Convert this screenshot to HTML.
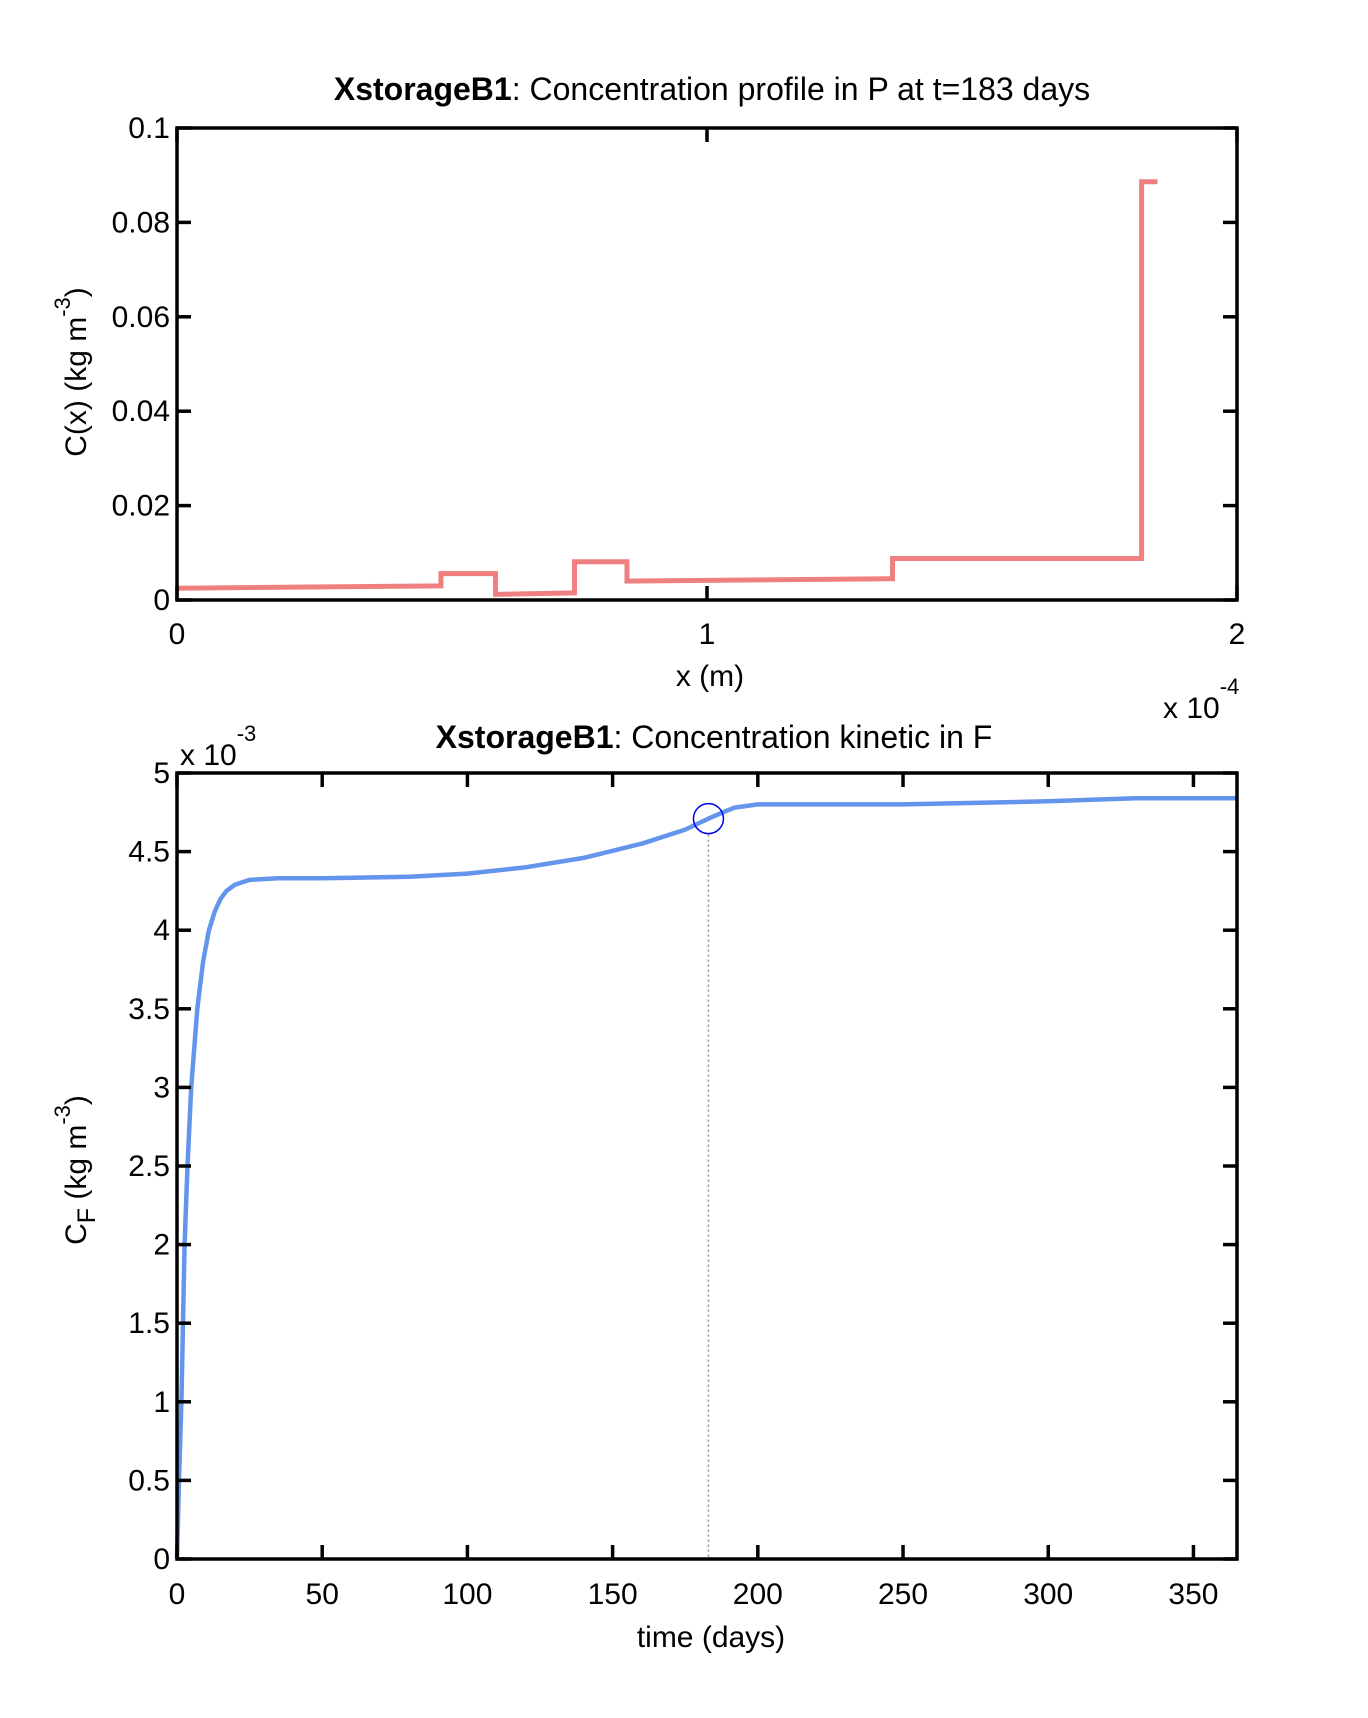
<!DOCTYPE html>
<html><head><meta charset="utf-8"><style>
html,body{margin:0;padding:0;background:#fff;}
svg{display:block;font-family:"Liberation Sans",sans-serif;}
</style></head><body>
<svg id="fig" width="1368" height="1718" viewBox="0 0 1368 1718">
<g id="top"></g>
<g id="bot"></g>
</svg>
<script>
// Top chart data: step profile (x in 1e-4 m, C in kg m^-3)
const profX = [0, 0.498, 0.498, 0.601, 0.601, 0.75, 0.75, 0.849, 0.849, 1.35, 1.35, 1.82, 1.82, 1.85];
const profC = [0.0025, 0.0030, 0.0056, 0.0056, 0.0012, 0.0015, 0.0081, 0.0081, 0.0040, 0.0045, 0.0088, 0.0088, 0.0886, 0.0886];
const topYTicks = [0, 0.02, 0.04, 0.06, 0.08, 0.1];
const topYLabels = ["0", "0.02", "0.04", "0.06", "0.08", "0.1"];
const topXTicks = [0, 1, 2];
const topXLabels = ["0", "1", "2"];
// Bottom chart data: time (days), C_F (x1e-3)
const kinT = [0, 0.7, 1.5, 2.6, 3.6, 4.9, 7, 9, 11, 13, 15, 17, 20, 25, 35, 50, 80, 100, 120, 140, 160, 175, 183, 188, 192, 196, 200, 250, 300, 330, 365];
const kinC = [0, 0.5, 1.0, 2.0, 2.5, 3.0, 3.5, 3.8, 4.0, 4.12, 4.2, 4.25, 4.29, 4.32, 4.33, 4.33, 4.34, 4.36, 4.40, 4.46, 4.55, 4.64, 4.71, 4.75, 4.78, 4.79, 4.80, 4.80, 4.82, 4.84, 4.84];
const markT = [183];
const markC = [4.71];
const botYTicks = [0, 0.5, 1, 1.5, 2, 2.5, 3, 3.5, 4, 4.5, 5];
const botYLabels = ["0", "0.5", "1", "1.5", "2", "2.5", "3", "3.5", "4", "4.5", "5"];
const botXTicks = [0, 50, 100, 150, 200, 250, 300, 350];
const botXLabels = ["0", "50", "100", "150", "200", "250", "300", "350"];

const NS = "http://www.w3.org/2000/svg";
function mk(parent, tag, attrs, text) {
  const e = document.createElementNS(NS, tag);
  for (const k in attrs) e.setAttribute(k, attrs[k]);
  if (text !== undefined) e.textContent = text;
  parent.appendChild(e);
  return e;
}
const L = 177, R = 1237, TK = 14, FS = 30;

// ---------- TOP ----------
const gt = document.getElementById('top');
const tT = 128, tB = 600;
const tx = v => L + (v - 0) / 2 * (R - L);
const ty = v => tB - v / 0.1 * (tB - tT);
let d = profX.map((x, i) => (i ? 'L' : 'M') + tx(x) + ',' + ty(profC[i])).join(' ');
let e = mk(gt, 'path', {d: d, fill: 'none', stroke: '#f08080', 'stroke-width': 5});


e = mk(gt, 'rect', {x: L, y: tT, width: R - L, height: tB - tT, fill: 'none', stroke: '#000', 'stroke-width': 3.5});


topYTicks.forEach((v, i) => {
  const y = ty(v);
  mk(gt, 'line', {x1: L, x2: L + TK, y1: y, y2: y, stroke: '#000', 'stroke-width': 3.5});
  mk(gt, 'line', {x1: R - TK, x2: R, y1: y, y2: y, stroke: '#000', 'stroke-width': 3.5});
  e = mk(gt, 'text', {x: L - 7, y: y + 10, 'text-anchor': 'end', 'font-size': FS}, topYLabels[i]);
  
  
});
topXTicks.forEach((v, i) => {
  const x = tx(v);
  mk(gt, 'line', {x1: x, x2: x, y1: tB, y2: tB - TK, stroke: '#000', 'stroke-width': 3.5});
  mk(gt, 'line', {x1: x, x2: x, y1: tT, y2: tT + TK, stroke: '#000', 'stroke-width': 3.5});
  e = mk(gt, 'text', {x: x, y: 644, 'text-anchor': 'middle', 'font-size': FS}, topXLabels[i]);
  
  
});
e = mk(gt, 'text', {x: 712, y: 100, 'text-anchor': 'middle', 'font-size': 32});
e.innerHTML = '<tspan font-weight="bold">XstorageB1</tspan>: Concentration profile in P at t=183 days';


e = mk(gt, 'text', {x: 710, y: 686, 'text-anchor': 'middle', 'font-size': 30}, 'x (m)');


e = mk(gt, 'text', {x: 1163, y: 718, 'font-size': 30});
e.innerHTML = 'x 10<tspan dy="-24" font-size="22">-4</tspan>';


e = mk(gt, 'text', {x: 0, y: 0, 'text-anchor': 'middle', 'font-size': 30, transform: 'translate(86,372) rotate(-90)'});
e.innerHTML = 'C(x) (kg m<tspan dy="-16" font-size="22">-3</tspan><tspan dy="16">)</tspan>';



// ---------- BOTTOM ----------
const gb = document.getElementById('bot');
const bT = 773, bB = 1559;
const bx = v => L + v / 365 * (R - L);
const by = v => bB - v / 5 * (bB - bT);
e = mk(gb, 'line', {x1: bx(markT[0]), x2: bx(markT[0]), y1: by(markC[0]) + 16, y2: bB, stroke: '#8090a8', 'stroke-width': 1.5, 'stroke-dasharray': '2,3'});


d = kinT.map((t, i) => (i ? 'L' : 'M') + bx(t).toFixed(1) + ',' + by(kinC[i]).toFixed(1)).join(' ');
e = mk(gb, 'path', {d: d, fill: 'none', stroke: '#6495ed', 'stroke-width': 4.5, 'stroke-linejoin': 'round'});


e = mk(gb, 'circle', {cx: bx(markT[0]), cy: by(markC[0]), r: 15, fill: 'none', stroke: '#0000ee', 'stroke-width': 1.5});


e = mk(gb, 'rect', {x: L, y: bT, width: R - L, height: bB - bT, fill: 'none', stroke: '#000', 'stroke-width': 3.5});


botYTicks.forEach((v, i) => {
  const y = by(v);
  mk(gb, 'line', {x1: L, x2: L + TK, y1: y, y2: y, stroke: '#000', 'stroke-width': 3.5});
  mk(gb, 'line', {x1: R - TK, x2: R, y1: y, y2: y, stroke: '#000', 'stroke-width': 3.5});
  e = mk(gb, 'text', {x: L - 7, y: y + 10, 'text-anchor': 'end', 'font-size': FS}, botYLabels[i]);
  
  
});
botXTicks.forEach((v, i) => {
  const x = bx(v);
  mk(gb, 'line', {x1: x, x2: x, y1: bB, y2: bB - TK, stroke: '#000', 'stroke-width': 3.5});
  mk(gb, 'line', {x1: x, x2: x, y1: bT, y2: bT + TK, stroke: '#000', 'stroke-width': 3.5});
  e = mk(gb, 'text', {x: x, y: 1604, 'text-anchor': 'middle', 'font-size': FS}, botXLabels[i]);
  
  
});
e = mk(gb, 'text', {x: 714, y: 748, 'text-anchor': 'middle', 'font-size': 32});
e.innerHTML = '<tspan font-weight="bold">XstorageB1</tspan>: Concentration kinetic in F';


e = mk(gb, 'text', {x: 711, y: 1647, 'text-anchor': 'middle', 'font-size': 30}, 'time (days)');


e = mk(gb, 'text', {x: 180, y: 765, 'font-size': 30});
e.innerHTML = 'x 10<tspan dy="-24" font-size="22">-3</tspan>';


e = mk(gb, 'text', {x: 0, y: 0, 'text-anchor': 'middle', 'font-size': 30, transform: 'translate(86,1170) rotate(-90)'});
e.innerHTML = 'C<tspan dy="9" font-size="25">F</tspan><tspan dy="-9"> (kg m</tspan><tspan dy="-16" font-size="22">-3</tspan><tspan dy="16">)</tspan>';


</script>
</body></html>
